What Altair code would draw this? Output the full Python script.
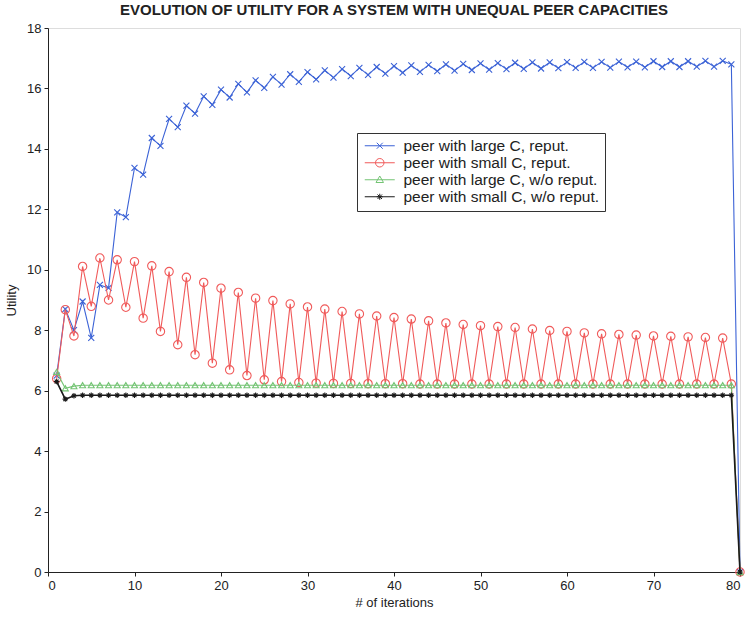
import altair as alt
import pandas as pd

iterations = list(range(1, 81))

large_rep = [6.5, 8.7, 8.0, 8.95, 7.75, 9.5, 9.4, 11.9, 11.74, 13.37,
             13.15, 14.36, 14.1, 14.99, 14.72, 15.43, 15.17, 15.74, 15.46, 15.96,
             15.7, 16.15, 15.87, 16.27, 16.02, 16.38, 16.13, 16.47, 16.22, 16.54,
             16.3, 16.6, 16.36, 16.64, 16.41, 16.68, 16.45, 16.71, 16.49, 16.74,
             16.52, 16.76, 16.55, 16.78, 16.57, 16.8, 16.59, 16.81, 16.61, 16.83,
             16.62, 16.84, 16.64, 16.85, 16.65, 16.86, 16.66, 16.86, 16.67, 16.87,
             16.68, 16.88, 16.68, 16.88, 16.69, 16.89, 16.7, 16.89, 16.7, 16.9,
             16.71, 16.9, 16.71, 16.9, 16.72, 16.91, 16.72, 16.91, 16.8, 0.0]

small_rep = [6.4, 8.68, 7.81, 10.11, 8.79, 10.39, 9.0, 10.33, 8.76, 10.27,
             8.4, 10.13, 7.96, 9.94, 7.52, 9.75, 7.19, 9.58, 6.91, 9.39,
             6.69, 9.25, 6.5, 9.06, 6.36, 8.98, 6.3, 8.87, 6.27, 8.77,
             6.25, 8.7, 6.24, 8.62, 6.24, 8.54, 6.23, 8.47, 6.23, 8.42,
             6.23, 8.37, 6.22, 8.31, 6.22, 8.24, 6.22, 8.19, 6.22, 8.15,
             6.22, 8.12, 6.22, 8.09, 6.22, 8.04, 6.22, 7.99, 6.22, 7.96,
             6.22, 7.91, 6.22, 7.88, 6.22, 7.86, 6.22, 7.84, 6.22, 7.81,
             6.22, 7.8, 6.22, 7.78, 6.22, 7.76, 6.22, 7.74, 6.22, 0.0]

large_norep = [6.62, 6.08, 6.15] + [6.18] * 76 + [0.0]
small_norep = [6.3, 5.72, 5.83] + [5.85] * 76 + [0.0]

series_names = ["peer with large C, reput.", "peer with small C, reput.",
                "peer with large C, w/o reput.", "peer with small C, w/o reput."]
series_values = [large_rep, small_rep, large_norep, small_norep]
colors = ["#3b62d6", "#f05a5a", "#74c474", "#1a1a1a"]

X_PATH = "M-1,-1L1,1M-1,1L1,-1"
AST_PATH = "M-1,0L1,0M0,-1L0,1M-0.7,-0.7L0.7,0.7M-0.7,0.7L0.7,-0.7"
marker_shapes = [X_PATH, "circle", "triangle-up", AST_PATH]
marker_sizes = [36, 70, 36, 30]

legend_paths = [
    "M-3,0L3,0M-0.6,-0.6L0.6,0.6M-0.6,0.6L0.6,-0.6",
    "M-3,0L3,0M-0.85,0A0.85,0.85 0 1,0 0.85,0A0.85,0.85 0 1,0 -0.85,0",
    "M-3,0L3,0M0,-0.75L0.75,0.55L-0.75,0.55Z",
    "M-3,0L3,0M-0.6,0L0.6,0M0,-0.6L0,0.6M-0.45,-0.45L0.45,0.45M-0.45,0.45L0.45,-0.45",
]

rows = []
for name, vals in zip(series_names, series_values):
    for it, v in zip(iterations, vals):
        rows.append({"iteration": it, "utility": v, "series": name})
df = pd.DataFrame(rows)

FONT = "Liberation Sans"

x_main = alt.X("iteration:Q",
               scale=alt.Scale(domain=[0, 80], nice=False, zero=False),
               axis=alt.Axis(values=list(range(0, 81, 10)), title="# of iterations",
                             grid=False, tickSize=4, labelPadding=3, titlePadding=4,
                             domainColor="#222", tickColor="#222",
                             labelFont=FONT, labelFontSize=13, labelColor="#222",
                             titleFont=FONT, titleFontSize=13, titleFontWeight="normal",
                             titleColor="#222"))
y_main = alt.Y("utility:Q",
               scale=alt.Scale(domain=[0, 18], nice=False, zero=True),
               axis=alt.Axis(values=list(range(0, 19, 2)), title="Utility",
                             grid=False, tickSize=4, labelPadding=3, titlePadding=8,
                             domainColor="#222", tickColor="#222",
                             labelFont=FONT, labelFontSize=13, labelColor="#222",
                             titleFont=FONT, titleFontSize=13, titleFontWeight="normal",
                             titleColor="#222"))

layers = []
for i, name in enumerate(series_names):
    sub = alt.Chart(df).transform_filter(alt.datum.series == name)
    layers.append(sub.mark_line(strokeWidth=1.1 if i < 3 else 1.6,
                                color=colors[i]).encode(x=x_main, y=y_main))
    layers.append(sub.mark_point(shape=marker_shapes[i], size=marker_sizes[i],
                                 filled=False, strokeWidth=1.1, color=colors[i],
                                 opacity=1).encode(x=x_main, y=y_main))

legend_def = alt.Legend(title=None, orient="none", legendX=309, legendY=105,
                        fillColor="white", strokeColor="#333", padding=5,
                        labelFont=FONT, labelFontSize=15.5, labelColor="#222",
                        labelLimit=400,
                        symbolSize=100, symbolStrokeWidth=1, rowPadding=0,
                        symbolOffset=10, labelOffset=16)
legend_layer = alt.Chart(df).transform_filter("datum.iteration > 1000").mark_point(
    filled=False, size=100, strokeWidth=1, opacity=1).encode(
    x=x_main, y=y_main,
    color=alt.Color("series:N", scale=alt.Scale(domain=series_names, range=colors),
                    legend=legend_def),
    shape=alt.Shape("series:N", scale=alt.Scale(domain=series_names, range=legend_paths),
                    legend=legend_def),
)
layers.append(legend_layer)

chart = alt.layer(*layers).properties(
    width=692, height=544,
    title=alt.Title("EVOLUTION OF UTILITY FOR A SYSTEM WITH UNEQUAL PEER CAPACITIES",
                    font=FONT, fontSize=15, fontWeight="bold", color="#222",
                    offset=4, anchor="middle"),
    autosize=alt.AutoSizeParams(type="none"),
    padding={"left": 48, "top": 28, "right": 10, "bottom": 45},
).configure_view(stroke="#222", strokeWidth=1).configure(background="white")

chart.save("out.html", embed_options={"renderer": "svg", "actions": False})
